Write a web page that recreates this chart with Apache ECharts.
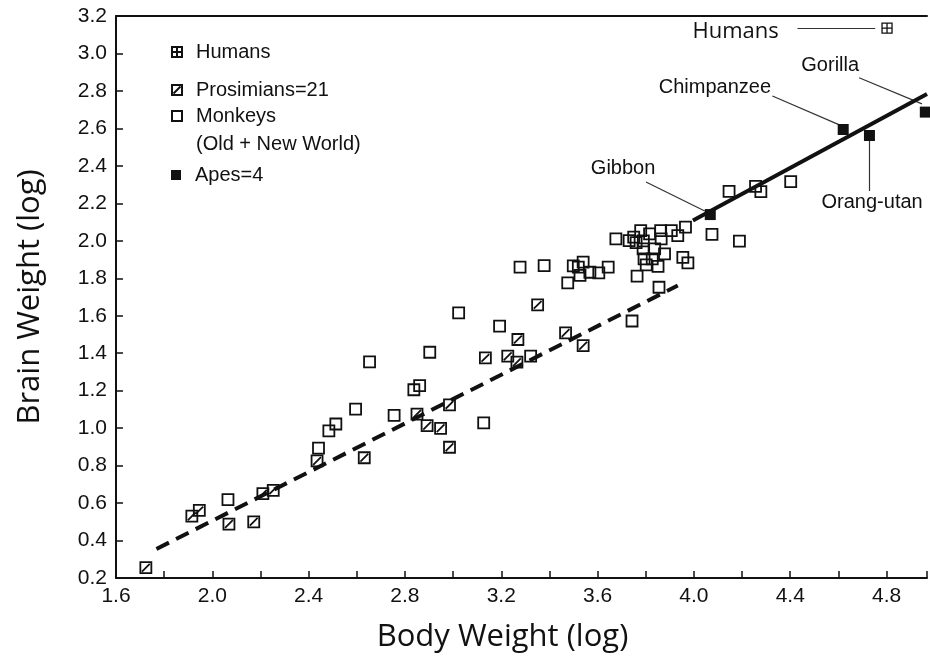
<!DOCTYPE html>
<html><head><meta charset="utf-8">
<script src="https://cdn.jsdelivr.net/npm/echarts@6/dist/echarts.min.js"></script>
<style>html,body{margin:0;padding:0;background:#fff}#c{width:930px;height:658px}</style>
</head><body><div id="c"></div>
<script>
// ---- data (log body weight, log brain weight) ----
const xMin = 1.6, xMax = 4.968, xStep = 0.2;
const yMin = 0.2, yMax = 3.2, yStep = 0.2;

const humans = [[4.802, 3.135]];

const prosimians = [
  [1.724, 0.255], [1.915, 0.530], [1.946, 0.561], [2.069, 0.488], [2.172, 0.500],
  [2.210, 0.650], [2.253, 0.668], [2.435, 0.825], [2.631, 0.842], [2.850, 1.075],
  [2.892, 1.013], [2.948, 0.999], [2.985, 0.898], [2.985, 1.124], [3.134, 1.375],
  [3.227, 1.384], [3.269, 1.473], [3.265, 1.352], [3.351, 1.658], [3.467, 1.508],
  [3.540, 1.440]
];

const monkeys = [
  [2.065, 0.618], [2.441, 0.893], [2.484, 0.985], [2.513, 1.022], [2.595, 1.102],
  [2.653, 1.354], [2.755, 1.068], [2.837, 1.205], [2.861, 1.227], [2.903, 1.405],
  [3.023, 1.615], [3.127, 1.028], [3.193, 1.544], [3.322, 1.384], [3.278, 1.859],
  [3.378, 1.868], [3.476, 1.775], [3.499, 1.866], [3.520, 1.860], [3.540, 1.886],
  [3.527, 1.815], [3.568, 1.832], [3.605, 1.829], [3.644, 1.859], [3.743, 1.572],
  [3.855, 1.752], [3.676, 2.010], [3.731, 2.001], [3.750, 2.020], [3.760, 1.990],
  [3.779, 2.054], [3.790, 2.000], [3.816, 2.037], [3.862, 2.054], [3.864, 2.010],
  [3.906, 2.054], [3.933, 2.028], [3.965, 2.073], [3.789, 1.957], [3.837, 1.957],
  [3.878, 1.930], [3.954, 1.912], [3.975, 1.882], [3.793, 1.903], [3.827, 1.903],
  [3.851, 1.864], [3.764, 1.811], [3.802, 1.871], [4.075, 2.034], [4.189, 1.998],
  [4.146, 2.264], [4.256, 2.290], [4.278, 2.263], [4.402, 2.316]
];

const apeNames = ['Gibbon', 'Chimpanzee', 'Orang-utan', 'Gorilla'];
const apes = [[4.068, 2.140], [4.620, 2.594], [4.729, 2.562], [4.961, 2.687]];

// fitted lines (endpoints)
const prosimianMonkeyFit = [[1.768, 0.355], [3.933, 1.761]];
const apeFit = [[3.996, 2.108], [4.968, 2.784]];

// annotations: label anchor and leader line ends, in data units
const noteNames = ['Humans', 'Chimpanzee', 'Gorilla', 'Orang-utan', 'Gibbon'];
const noteText = [[4.173, 3.115], [4.087, 2.821], [4.566, 2.934], [4.740, 2.207], [3.706, 2.388]];
const leaderFrom = [[4.430, 3.136], [4.326, 2.773], [4.686, 2.870], [4.728, 2.533], [3.801, 2.314]];
const leaderTo = [[4.753, 3.136], [4.604, 2.619], [4.947, 2.731], [4.728, 2.266], [4.045, 2.159]];

const legendNames = ['Humans', 'Prosimians=21', 'Monkeys', 'Apes=4'];

// ---- chart ----
const INK = '#111';
const ARIAL = '"Liberation Sans", Arial, sans-serif';
const TITLE_FONT = '"Open Sans", sans-serif';
const SYM_HUMAN = 'path://M0,0L10,0L10,10L0,10Z M5,0L5,10 M0,5L10,5';
const SYM_PRO = 'path://M0,0L10,0L10,10L0,10Z M1.5,8.5L8.5,1.5';

const chart = echarts.init(document.getElementById('c'), null, {renderer: 'canvas'});

function legendAt(name, top) {
  return {
    data: [name], left: 171, top: top, orient: 'vertical', padding: 0,
    itemWidth: 10, itemHeight: 10, selectedMode: false,
    textStyle: {fontFamily: ARIAL, fontSize: 20, color: INK, padding: [0, 0, 0, 9]}
  };
}

const option = {
  animation: false,
  backgroundColor: '#fff',
  grid: {left: 116, right: 0, top: 16, bottom: 79},
  legend: [
    legendAt(legendNames[0], 42),
    legendAt(legendNames[1], 80),
    legendAt(legendNames[2], 106),
    legendAt(legendNames[3], 165)
  ],
  graphic: [{
    type: 'text', left: 196, top: 134, silent: true,
    style: {text: '(Old + New World)', font: '20px "Liberation Sans", Arial, sans-serif', fill: INK}
  }],
  xAxis: [{
    type: 'value', min: xMin, max: xMax, interval: xStep,
    name: 'Body Weight (log)', nameLocation: 'middle', nameGap: 44,
    nameTextStyle: {fontFamily: TITLE_FONT, fontSize: 31, color: INK, padding: [0, 38, 0, 0]},
    axisLine: {lineStyle: {color: INK, width: 2}},
    axisTick: {inside: true, length: 7, lineStyle: {color: INK, width: 1.5}},
    splitLine: {show: false},
    axisLabel: {
      fontFamily: ARIAL, fontSize: 21, color: INK, margin: 8,
      formatter: v => (Math.round((v - xMin) / xStep) % 2 === 0 ? v.toFixed(1) : '')
    }
  }, {
    type: 'value', position: 'top', min: xMin, max: xMax,
    axisLine: {show: true, lineStyle: {color: INK, width: 2}},
    axisTick: {show: false}, axisLabel: {show: false}, splitLine: {show: false}
  }],
  yAxis: {
    type: 'value', min: yMin, max: yMax, interval: yStep,
    name: 'Brain Weight (log)', nameLocation: 'middle', nameGap: 70,
    nameTextStyle: {fontFamily: TITLE_FONT, fontSize: 31, color: INK},
    axisLine: {show: true, lineStyle: {color: INK, width: 2}},
    axisTick: {inside: true, length: 7, lineStyle: {color: INK, width: 1.5}},
    splitLine: {show: false},
    axisLabel: {fontFamily: ARIAL, fontSize: 21, color: INK, margin: 9, formatter: v => v.toFixed(1)}
  },
  series: [
    {
      name: 'fit-dashed', type: 'line', data: prosimianMonkeyFit, symbol: 'none', silent: true,
      lineStyle: {color: INK, width: 4, type: [14, 8]}, z: 1
    },
    {
      name: 'fit-solid', type: 'line', data: apeFit, symbol: 'none', silent: true,
      lineStyle: {color: INK, width: 4}, z: 1
    },
    {
      name: 'leaders', type: 'lines', coordinateSystem: 'cartesian2d', silent: true,
      data: noteNames.map((n, i) => ({coords: [leaderFrom[i], leaderTo[i]]})),
      lineStyle: {color: '#333', width: 1.2, opacity: 1}, z: 1
    },
    {
      name: 'Humans', type: 'scatter', data: humans, symbol: SYM_HUMAN, symbolSize: 10,
      itemStyle: {color: '#fff', borderColor: INK, borderWidth: 1.3, opacity: 1}, z: 3
    },
    {
      name: 'Prosimians=21', type: 'scatter', data: prosimians, symbol: SYM_PRO, symbolSize: 11,
      itemStyle: {color: 'rgba(255,255,255,0)', borderColor: INK, borderWidth: 1.8, opacity: 1}, z: 3
    },
    {
      name: 'Monkeys', type: 'scatter', data: monkeys, symbol: 'rect', symbolSize: 11,
      itemStyle: {color: 'rgba(255,255,255,0)', borderColor: INK, borderWidth: 1.8, opacity: 1}, z: 3
    },
    {
      name: 'Apes=4', type: 'scatter', symbol: 'rect', symbolSize: 11,
      data: apes.map((p, i) => ({name: apeNames[i], value: p})),
      itemStyle: {color: INK, borderColor: INK, borderWidth: 0, opacity: 1}, z: 4
    },
    {
      name: 'notes', type: 'scatter', symbolSize: 0, silent: true, z: 5,
      itemStyle: {opacity: 1},
      data: noteNames.map((n, i) => ({
        name: n, value: noteText[i],
        label: n === 'Humans'
          ? {fontFamily: TITLE_FONT, fontSize: 22}
          : {fontFamily: ARIAL, fontSize: 20}
      })),
      label: {show: true, position: 'inside', formatter: p => p.name, color: INK, opacity: 1}
    }
  ]
};
chart.setOption(option);
</script></body></html>
